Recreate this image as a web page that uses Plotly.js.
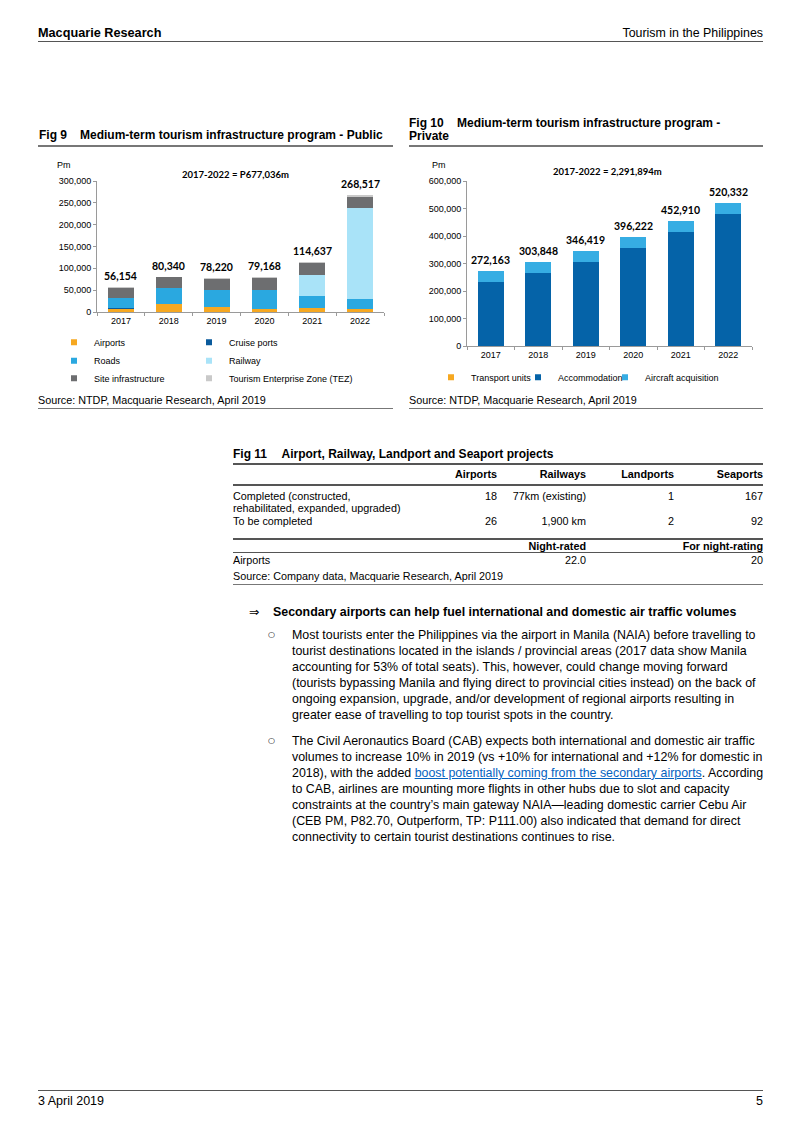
<!DOCTYPE html>
<html><head><meta charset="utf-8">
<script src="https://cdn.plot.ly/plotly-3.0.1.min.js"></script>
<style>
html,body{margin:0;padding:0;background:#fff}
body{width:802px;height:1133px;position:relative;overflow:hidden;font-family:"Liberation Sans",Arial,sans-serif;color:#000}
.t{position:absolute;white-space:nowrap;line-height:1}
.ln{position:absolute;height:0}
.chart{position:absolute}
a{color:#0563C1;text-decoration:underline}
</style></head><body>
<div id="fig9" class="chart" style="left:35px;top:150px;width:360px;height:245px"></div>
<div id="fig10" class="chart" style="left:405px;top:150px;width:365px;height:245px"></div>
<script>
// ---------- DATA ----------
const years = ['2017','2018','2019','2020','2021','2022'];
// Fig 9 - Public (Pm)
const airports      = [7000, 19000, 12000, 6000, 9000, 7000];
const cruisePorts   = [2500, 300, 500, 2000, 500, 1000];
const roads         = [23000, 36500, 39000, 43000, 27000, 21500];
const railway       = [0, 0, 0, 0, 48000, 207700];
const siteInfra     = [22500, 23500, 25000, 26000, 27500, 25800];
const tez           = [1154, 1040, 1720, 2168, 2637, 5517];
const totalsPublic  = [56154, 80340, 78220, 79168, 114637, 268517];
const publicTotalLabel = '2017-2022 = P677,036m';
// Fig 10 - Private (Pm)
const transportUnits = [300, 300, 300, 300, 300, 300];
const accommodation  = [232500, 264000, 305500, 357500, 413000, 480700];
const aircraftAcq    = [39363, 39548, 40619, 38422, 39610, 39332];
const totalsPrivate  = [272163, 303848, 346419, 396222, 452910, 520332];
const privateTotalLabel = '2017-2022 = 2,291,894m';
const yTicks9 = [0,50000,100000,150000,200000,250000,300000];
const yTicks10 = [0,100000,200000,300000,400000,500000,600000];

// ---------- PAGE TEXT ----------
function txt(x, yc, s, o) {
  o = o || {};
  const d = document.createElement('div');
  d.className = 't';
  const fs = o.fs || 12.4;
  d.style.fontSize = fs + 'px';
  if (o.b) d.style.fontWeight = 'bold';
  if (o.ff) d.style.fontFamily = o.ff;
  if (o.right) d.style.right = (802 - x) + 'px'; else d.style.left = x + 'px';
  d.style.top = (yc - fs * 0.5) + 'px';
  d.innerHTML = s;
  document.body.appendChild(d);
}
function hline(x1, x2, y, w, c) {
  const d = document.createElement('div');
  d.className = 'ln';
  d.style.left = x1 + 'px'; d.style.width = (x2 - x1) + 'px';
  d.style.top = (y - w / 2) + 'px';
  d.style.borderTop = w + 'px solid ' + c;
  document.body.appendChild(d);
}
// header
txt(38, 33, 'Macquarie Research', {b:1, fs:12.7});
txt(763, 33, 'Tourism in the Philippines', {right:1, fs:12.4});
hline(38, 763, 41.5, 1.5, '#555');
// fig 9 title
txt(39, 135, 'Fig 9', {b:1, fs:12});
txt(80, 135, 'Medium-term tourism infrastructure program - Public', {b:1, fs:12});
hline(38, 393, 146, 2, '#777');
txt(38, 400, 'Source: NTDP, Macquarie Research, April 2019', {fs:10.8});
hline(38, 393, 408, 1, '#777');
// fig 10 title
txt(409, 122.5, 'Fig 10', {b:1, fs:12});
txt(457, 122.5, 'Medium-term tourism infrastructure program -', {b:1, fs:12});
txt(409, 136, 'Private', {b:1, fs:12});
hline(409, 763, 146, 2, '#777');
txt(409, 400, 'Source: NTDP, Macquarie Research, April 2019', {fs:10.8});
hline(409, 763, 408, 1, '#777');
// fig 11 table
txt(233, 454, 'Fig 11', {b:1, fs:12});
txt(281.5, 454, 'Airport, Railway, Landport and Seaport projects', {b:1, fs:12});
hline(233, 763, 464, 2, '#555');
const colR = [497, 586, 674, 763];
const heads = ['Airports', 'Railways', 'Landports', 'Seaports'];
heads.forEach((h, i) => txt(colR[i], 474.5, h, {b:1, fs:10.8, right:1}));
hline(233, 763, 485, 2, '#555');
txt(233, 496, 'Completed (constructed,', {fs:10.8});
txt(233, 508.5, 'rehabilitated, expanded, upgraded)', {fs:10.8});
['18', '77km (existing)', '1', '167'].forEach((v, i) => txt(colR[i], 496, v, {fs:10.8, right:1}));
txt(233, 521, 'To be completed', {fs:10.8});
['26', '1,900 km', '2', '92'].forEach((v, i) => txt(colR[i], 521, v, {fs:10.8, right:1}));
hline(233, 763, 539, 2, '#555');
txt(586, 546, 'Night-rated', {b:1, fs:10.8, right:1});
txt(763, 546, 'For night-rating', {b:1, fs:10.8, right:1});
hline(233, 763, 552.5, 1, '#555');
txt(233, 560, 'Airports', {fs:10.8});
txt(586, 560, '22.0', {fs:10.8, right:1});
txt(763, 560, '20', {fs:10.8, right:1});
txt(233, 576.5, 'Source: Company data, Macquarie Research, April 2019', {fs:10.8});
hline(233, 763, 584, 1, '#777');
// body text
txt(249, 612, '&#8658;', {fs:12.4, ff:'"DejaVu Sans", sans-serif'});
txt(273, 612, 'Secondary airports can help fuel international and domestic air traffic volumes', {b:1, fs:12.4});
const para1 = [
 'Most tourists enter the Philippines via the airport in Manila (NAIA) before travelling to',
 'tourist destinations located in the islands / provincial areas (2017 data show Manila',
 'accounting for 53% of total seats). This, however, could change moving forward',
 '(tourists bypassing Manila and flying direct to provincial cities instead) on the back of',
 'ongoing expansion, upgrade, and/or development of regional airports resulting in',
 'greater ease of travelling to top tourist spots in the country.'
];
const para2 = [
 'The Civil Aeronautics Board (CAB) expects both international and domestic air traffic',
 'volumes to increase 10% in 2019 (vs +10% for international and +12% for domestic in',
 '2018), with the added <a>boost potentially coming from the secondary airports</a>. According',
 'to CAB, airlines are mounting more flights in other hubs due to slot and capacity',
 'constraints at the country\u2019s main gateway NAIA\u2014leading domestic carrier Cebu Air',
 '(CEB PM, P82.70, Outperform, TP: P111.00) also indicated that demand for direct',
 'connectivity to certain tourist destinations continues to rise.'
];
txt(268, 635, '&#9675;', {fs:8, ff:'"DejaVu Sans", sans-serif'});
para1.forEach((l, i) => txt(292, 635 + 16 * i, l, {fs:12.4}));
txt(268, 741, '&#9675;', {fs:8, ff:'"DejaVu Sans", sans-serif'});
para2.forEach((l, i) => txt(292, 741 + 16 * i, l, {fs:12.4}));
// footer
hline(38, 763, 1091, 1.5, '#555');
txt(38, 1101, '3 April 2019', {fs:12.5});
txt(763, 1101, '5', {fs:12.5, right:1});

// ---------- CHARTS ----------
const F = '"Liberation Sans", Arial, sans-serif';
const LF = 'Lato, "Open Sans", sans-serif';
const fmt = v => v.toLocaleString('en-US');
const cfg = {displayModeBar:false, staticPlot:true};

function barTrace(name, y, color) {
  return {type:'bar', x:years, y:y, name:name, marker:{color:color, line:{width:0}}, showlegend:false, hoverinfo:'skip'};
}
function legTrace(name, color, leg) {
  return {type:'scatter', mode:'markers', x:[years[0]], y:[null], name:name, legend:leg, showlegend:true,
          marker:{symbol:'square', size:6, color:color}, hoverinfo:'skip'};
}
function legendAt(plotL, plotW, plotB, plotH, tx, cy) {
  return {x:(tx - 40 - plotL) / plotW, y:(plotB - cy) / plotH, xanchor:'left', yanchor:'middle',
          bgcolor:'rgba(0,0,0,0)', borderwidth:0, font:{family:F, size:9, color:'#000'}};
}
function axisCommon() {
  return {showline:true, linecolor:'#9a9a9a', linewidth:1, ticks:'outside', ticklen:3, tickcolor:'#9a9a9a',
          showgrid:false, zeroline:false, tickfont:{family:F, size:9, color:'#000'}, fixedrange:true};
}
function xAxis() {
  return Object.assign(axisCommon(), {type:'category', categoryorder:'array', categoryarray:years,
          range:[-0.5, years.length - 0.5], tickson:'boundaries', tickangle:0, autorange:false});
}
function totalLabels(totals) {
  return totals.map((v, i) => ({xref:'x', yref:'y', x:i, y:v, text:fmt(v), showarrow:false,
      xanchor:'center', yanchor:'middle', yshift:11, font:{family:LF, size:10.5, color:'#000', weight:'bold'}}));
}
function paperText(x, y, text, font) {
  return {xref:'paper', yref:'paper', x:x, y:y, text:text, showarrow:false, xanchor:'center', yanchor:'middle', font:font};
}

// Fig 9
(function(){
  const C = {air:'#F6A821', cru:'#0A5A9C', road:'#2AA8E0', rail:'#A9E3F8', site:'#6D6E70', tez:'#C9C9C9'};
  const pl = 97, pw = 287, pb = 312, ph = 131;
  const traces = [
    barTrace('Airports', airports, C.air),
    barTrace('Cruise ports', cruisePorts, C.cru),
    barTrace('Roads', roads, C.road),
    barTrace('Railway', railway, C.rail),
    barTrace('Site infrastructure', siteInfra, C.site),
    barTrace('Tourism Enterprise Zone (TEZ)', tez, C.tez),
    legTrace('Airports', C.air, 'legend'),
    legTrace('Cruise ports', C.cru, 'legend2'),
    legTrace('Roads', C.road, 'legend3'),
    legTrace('Railway', C.rail, 'legend4'),
    legTrace('Site infrastructure', C.site, 'legend5'),
    legTrace('Tourism Enterprise Zone (TEZ)', C.tez, 'legend6')
  ];
  const ann = totalLabels(totalsPublic);
  ann.push(paperText((64 - pl) / pw, (pb - 165.5) / ph, 'Pm', {family:F, size:9, color:'#000'}));
  ann.push(paperText((235 - pl) / pw, (pb - 175) / ph, publicTotalLabel, {family:LF, size:9.5, color:'#000', weight:'bold'}));
  const ya = Object.assign(axisCommon(), {range:[0, 300000], autorange:false, tickvals:yTicks9, tickformat:',d'});
  const lx1 = 94, lx2 = 229;
  const layout = {
    width:360, height:245, margin:{l:62, r:11, t:31, b:83, autoexpand:false}, barmode:'stack', bargap:0.46,
    paper_bgcolor:'#fff', plot_bgcolor:'#fff', xaxis:xAxis(), yaxis:ya, annotations:ann, showlegend:true,
    legend: legendAt(pl, pw, pb, ph, lx1, 342.3),
    legend2: legendAt(pl, pw, pb, ph, lx2, 342.3),
    legend3: legendAt(pl, pw, pb, ph, lx1, 360.7),
    legend4: legendAt(pl, pw, pb, ph, lx2, 360.7),
    legend5: legendAt(pl, pw, pb, ph, lx1, 378.3),
    legend6: legendAt(pl, pw, pb, ph, lx2, 378.3)
  };
  Plotly.newPlot('fig9', traces, layout, cfg);
})();

// Fig 10
(function(){
  const C = {tr:'#F6A821', acc:'#0563A8', air:'#36ADE3'};
  const pl = 467, pw = 285, pb = 346, ph = 165;
  const traces = [
    barTrace('Transport units', transportUnits, C.tr),
    barTrace('Accommodation', accommodation, C.acc),
    barTrace('Aircraft acquisition', aircraftAcq, C.air),
    legTrace('Transport units', C.tr, 'legend'),
    legTrace('Accommodation', C.acc, 'legend2'),
    legTrace('Aircraft acquisition', C.air, 'legend3')
  ];
  const ann = totalLabels(totalsPrivate);
  ann.push(paperText((438.5 - pl) / pw, (pb - 165.5) / ph, 'Pm', {family:F, size:9, color:'#000'}));
  ann.push(paperText((607 - pl) / pw, (pb - 171.7) / ph, privateTotalLabel, {family:LF, size:9.5, color:'#000', weight:'bold'}));
  const ya = Object.assign(axisCommon(), {range:[0, 600000], autorange:false, tickvals:yTicks10, tickformat:',d'});
  const layout = {
    width:365, height:245, margin:{l:62, r:18, t:31, b:49, autoexpand:false}, barmode:'stack', bargap:0.45,
    paper_bgcolor:'#fff', plot_bgcolor:'#fff', xaxis:xAxis(), yaxis:ya, annotations:ann, showlegend:true,
    legend: legendAt(pl, pw, pb, ph, 471, 377.3),
    legend2: legendAt(pl, pw, pb, ph, 558, 377.3),
    legend3: legendAt(pl, pw, pb, ph, 645, 377.3)
  };
  Plotly.newPlot('fig10', traces, layout, cfg);
})();
</script>
</body></html>
